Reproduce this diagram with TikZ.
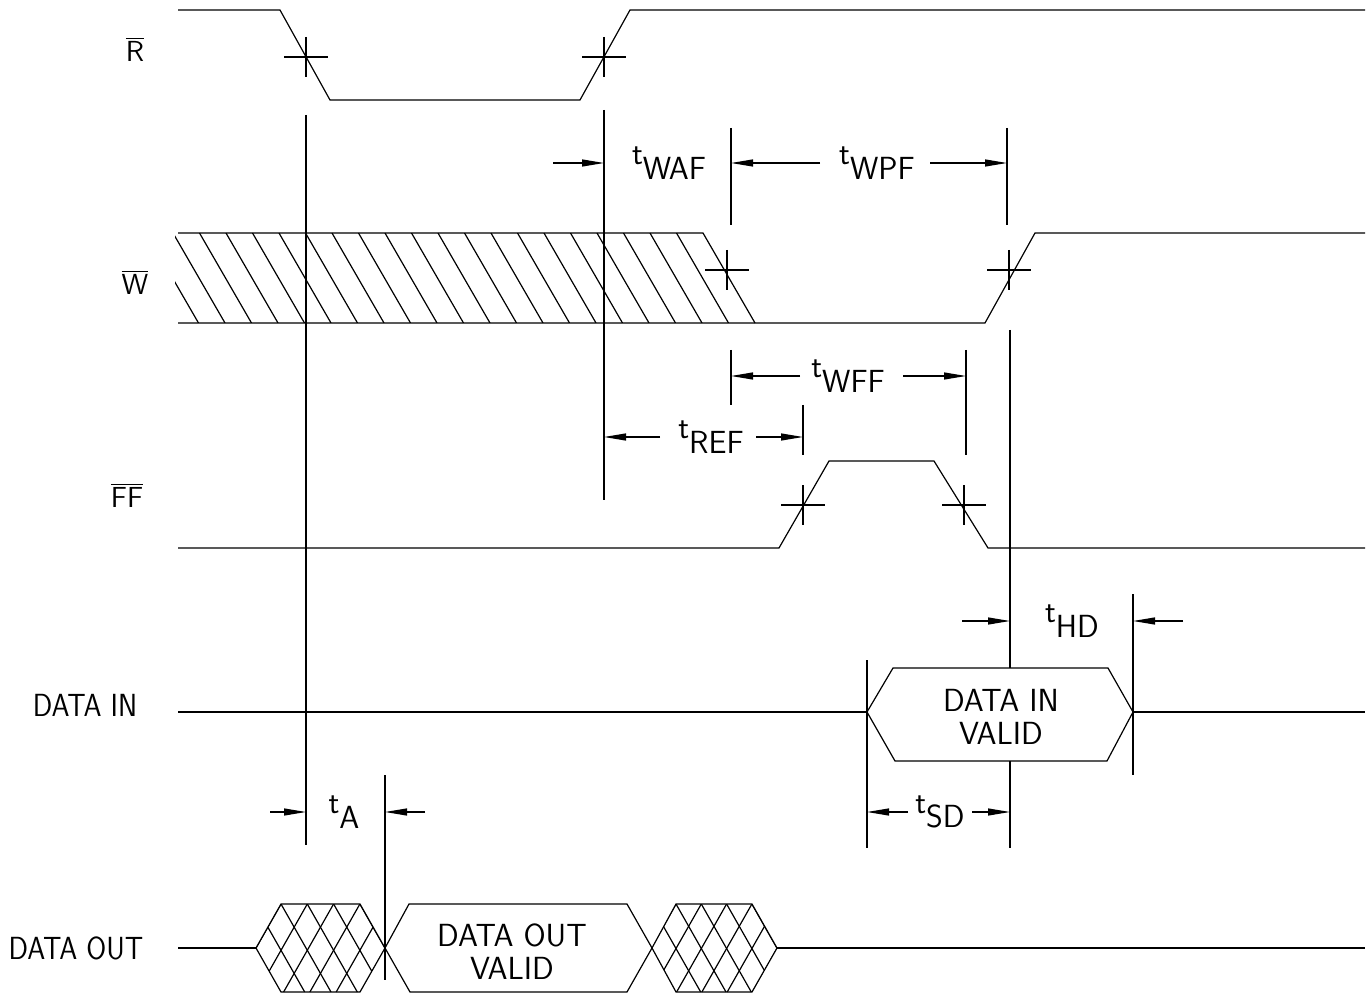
\documentclass[tikz,border=0pt]{standalone}
\usetikzlibrary{arrows.meta}
\tikzset{
  dim/.style={-{Triangle[length=11pt,width=3.5pt]}},
  txt/.style={font=\sffamily\fontsize{16}{16.5}\selectfont, inner sep=0pt, align=center},
  side/.style={txt, xscale=0.9, transform shape},
  sig/.style={font=\sffamily\fontsize{14.5}{16}\selectfont, inner sep=0pt},
  cross/.pic={\draw (-22,0) -- (22,0) (0,-20) -- (0,20);}
}
\newcommand\tsub[1]{t\raisebox{-0.45em}{#1}}
\begin{document}
\begin{tikzpicture}[x=0.5pt,y=-0.5pt,line width=0.6pt]
  \useasboundingbox (0,0) rectangle (1372,1000);
  % signal names
  \node[sig] (rname) at (135,49) {$\overline{\hbox{R}}$};
  \node[sig] (wname) at (135,282) {$\overline{\hbox{W}}$};
  \node[sig] (ffname) at (127,495) {$\overline{\hbox{FF}}$};
  \node[side] (diname) at (85,705) {DATA IN};
  \node[side] (doname) at (76,948) {DATA OUT};
  % waveforms
  \draw (178,10) -- (280,10) -- (330,100) -- (580,100) -- (630,10) -- (1365,10);
  \pic at (306,57) {cross};
  \pic at (604,57) {cross};
  \begin{scope}
    \clip (175,233) -- (703,233) -- (755,323) -- (175,323) -- cycle;
    \foreach \k in {-2,...,19}
      \draw ({173+26.5*\k},233) -- ++(52,90);
  \end{scope}
  \draw (178,233) -- (703,233) -- (755,323);
  \draw (178,323) -- (985,323) -- (1035,233) -- (1365,233);
  \pic at (727,270) {cross};
  \pic at (1009,270) {cross};
  \draw (178,548) -- (779,548) -- (829,461) -- (934,461) -- (988,548) -- (1365,548);
  \pic at (803,505) {cross};
  \pic at (964,505) {cross};
  \draw (178,712) -- (867,712);
  \draw (867,712) -- (893,668) -- (1108,668) -- (1133,712) -- (1107,761) -- (895,761) -- cycle;
  \draw (1133,712) -- (1365,712);
  \node[txt] (divalid) at (1001,717) {DATA IN\\VALID};
  % data out
  \begin{scope}
    \clip (256,948) -- (281,904) -- (360,904) -- (385,948) -- (360,992) -- (281,992) -- cycle;
    \foreach \k in {-4,...,3}
      \draw ({281+26.3*\k},904) -- ++(50,88);
    \foreach \k in {0,...,7}
      \draw ({281+26.3*\k},904) -- ++(-50,88);
  \end{scope}
  \begin{scope}
    \clip (652,948) -- (676,904) -- (752,904) -- (777,948) -- (752,992) -- (676,992) -- cycle;
    \foreach \k in {-4,...,3}
      \draw ({676+25.3*\k},904) -- ++(50,88);
    \foreach \k in {0,...,7}
      \draw ({676+25.3*\k},904) -- ++(-50,88);
  \end{scope}
  \draw (178,948) -- (256,948);
  \draw (256,948) -- (281,904) -- (360,904) -- (385,948) -- (360,992) -- (281,992) -- cycle;
  \draw (385,948) -- (409,904) -- (627,904) -- (652,948) -- (627,992) -- (410,992) -- cycle;
  \draw (652,948) -- (676,904) -- (752,904) -- (777,948) -- (752,992) -- (676,992) -- cycle;
  \draw (777,948) -- (1365,948);
  \node[txt] (dovalid) at (512,952) {DATA OUT\\VALID};
  % extension lines
  \coordinate (a1) at (306,115); \coordinate (a2) at (306,845);
  \coordinate (b1) at (604,110); \coordinate (b2) at (604,500);
  \coordinate (c1) at (731,128); \coordinate (c2) at (731,225);
  \coordinate (c3) at (731,350); \coordinate (c4) at (731,405);
  \coordinate (d1) at (1007,128); \coordinate (d2) at (1007,225);
  \coordinate (e1) at (803,405); \coordinate (e2) at (803,455);
  \coordinate (f1) at (966,350); \coordinate (f2) at (966,455);
  \coordinate (g1) at (1010,330); \coordinate (g2) at (1010,848);
  \coordinate (h1) at (1133,594); \coordinate (h2) at (1133,775);
  \coordinate (k1) at (867,660); \coordinate (k2) at (867,848);
  \coordinate (m1) at (385,775); \coordinate (m2) at (385,980);
  \foreach \p in {a,b,c,d,e,f,h,k,m}
    \draw (\p1) -- (\p2);
  \draw (c3) -- (c4);
  \draw (g1) -- (1010,668) (1010,761) -- (g2);
  % timing labels
  \node[txt] (twaf) at (669,163) {\tsub{WAF}};
  \node[txt] (twpf) at (877,163) {\tsub{WPF}};
  \node[txt] (twff) at (848,376) {\tsub{WFF}};
  \node[txt] (tref) at (711,437) {\tsub{REF}};
  \node[txt] (thd) at (1072,621) {\tsub{HD}};
  \node[txt] (tsd) at (940,812) {\tsub{SD}};
  \node[txt] (ta) at (344,812) {\tsub{A}};
  % dimension arrows
  \draw[dim] (b1 |- twaf) +(-51,0) -- (b1 |- twaf);
  \draw[dim] (c1 |- twpf) +(89,0) -- (c1 |- twpf);
  \draw[dim] (d1 |- twpf) +(-77,0) -- (d1 |- twpf);
  \draw[dim] (c3 |- twff) +(69,0) -- (c3 |- twff);
  \draw[dim] (f1 |- twff) +(-63,0) -- (f1 |- twff);
  \draw[dim] (b1 |- tref) +(56,0) -- (b1 |- tref);
  \draw[dim] (e1 |- tref) +(-47,0) -- (e1 |- tref);
  \draw[dim] (g1 |- thd) +(-48,0) -- (g1 |- thd);
  \draw[dim] (h1 |- thd) +(50,0) -- (h1 |- thd);
  \draw[dim] (k1 |- tsd) +(41,0) -- (k1 |- tsd);
  \draw[dim] (g1 |- tsd) +(-38,0) -- (g1 |- tsd);
  \draw[dim] (a1 |- ta) +(-36,0) -- (a1 |- ta);
  \draw[dim] (m1 |- ta) +(40,0) -- (m1 |- ta);
\end{tikzpicture}
\end{document}
